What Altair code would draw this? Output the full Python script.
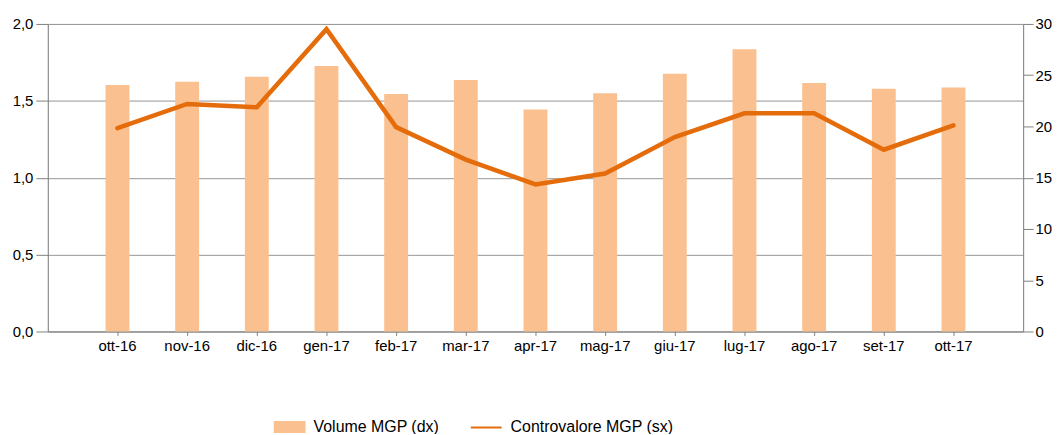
import altair as alt
import pandas as pd

months = ["ott-16", "nov-16", "dic-16", "gen-17", "feb-17", "mar-17", "apr-17",
          "mag-17", "giu-17", "lug-17", "ago-17", "set-17", "ott-17"]
volume = [24.05, 24.37, 24.85, 25.89, 23.17, 24.53, 21.65, 23.24, 25.15, 27.54, 24.24, 23.69, 23.79]
controvalore = [1.322, 1.480, 1.458, 1.966, 1.329, 1.118, 0.956, 1.027, 1.264, 1.419, 1.419, 1.182, 1.340]
left_ticks = [0, 0.5, 1.0, 1.5, 2.0]
right_ticks = [0, 5, 10, 15, 20, 25, 30]
series_bar = "Volume MGP (dx)"
series_line = "Controvalore MGP (sx)"

df = pd.DataFrame({"mese": months, "volume": volume, "controvalore": controvalore,
                   "s_bar": [series_bar] * len(months), "s_line": [series_line] * len(months)})

FONT = "Liberation Sans"
FS = 15
LFS = 16
BAR_COLOR = "#FAC090"
LINE_COLOR = "#E46C0A"
AXIS_COLOR = "#808080"

x_enc = alt.X(
    "mese:N",
    sort=months,
    scale=alt.Scale(paddingInner=0, paddingOuter=0.5),
    axis=alt.Axis(title=None, labelAngle=0, labelFontSize=FS, labelFont=FONT,
                  labelColor="#000000", domainColor=AXIS_COLOR, tickColor=AXIS_COLOR,
                  tickSize=4, labelPadding=3, grid=False),
)

bars = alt.Chart(df).mark_bar(size=24).encode(
    x=x_enc,
    y=alt.Y("volume:Q",
            scale=alt.Scale(domain=[0, 30], nice=False),
            axis=alt.Axis(orient="right", title=None, values=right_ticks, grid=False,
                          labelFontSize=FS, labelFont=FONT, labelColor="#000000",
                          domainColor=AXIS_COLOR, tickColor=AXIS_COLOR, tickSize=10,
                          labelPadding=2)),
    fill=alt.Fill(
        "s_bar:N",
        scale=alt.Scale(domain=[series_bar], range=[BAR_COLOR]),
        legend=alt.Legend(title=None, orient="none", legendX=227, legendY=389,
                          symbolType="M-1,-0.375L1,-0.375L1,0.375L-1,0.375Z",
                          symbolSize=1024, symbolStrokeWidth=0, labelFontSize=LFS,
                          labelFont=FONT, labelColor="#000000", labelOffset=8,
                          labelLimit=300, padding=0),
    ),
)

line = alt.Chart(df).mark_line(strokeWidth=4.5, strokeCap="round").encode(
    x=x_enc,
    y=alt.Y("controvalore:Q",
            scale=alt.Scale(domain=[0, 2], nice=False),
            axis=alt.Axis(orient="left", title=None, values=left_ticks, grid=True,
                          gridColor="#959595", gridWidth=1,
                          labelExpr="replace(format(datum.value, '.1f'), '.', ',')",
                          labelFontSize=FS, labelFont=FONT, labelColor="#000000",
                          domainColor=AXIS_COLOR, tickColor=AXIS_COLOR, tickSize=12,
                          labelPadding=3)),
    stroke=alt.Stroke(
        "s_line:N",
        scale=alt.Scale(domain=[series_line], range=[LINE_COLOR]),
        legend=alt.Legend(title=None, orient="none", legendX=424, legendY=389,
                          symbolType="stroke", symbolSize=961, symbolStrokeWidth=2,
                          labelFontSize=LFS, labelFont=FONT, labelColor="#000000",
                          labelOffset=8, labelLimit=300, padding=0),
    ),
)

chart = alt.layer(bars, line).resolve_scale(y="independent").properties(
    width=980,
    height=309,
    autosize=alt.AutoSizeParams(type="none"),
    padding={"left": 40, "top": 15, "right": 30, "bottom": 102},
).configure_view(stroke=None).configure(background="white")

chart.save("out.html", embed_options={"renderer": "svg", "actions": False})
